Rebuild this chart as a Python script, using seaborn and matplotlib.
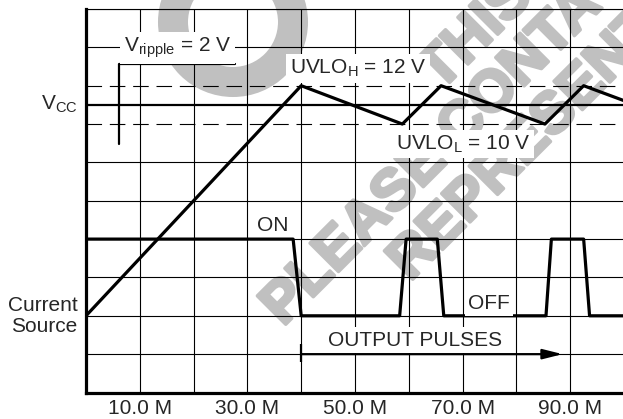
import matplotlib
matplotlib.use("Agg")
import pandas as pd
import matplotlib.pyplot as plt
import matplotlib.patheffects as pe
import seaborn as sns
from matplotlib.patches import Circle
from matplotlib.transforms import IdentityTransform

# time in M, level in grid divisions (0 = bottom, 10 = top)
ramp_t = [0, 40, 58.8, 66, 85.3, 92.5, 100]
ramp_v = [2, 8, 7, 8, 7, 8, 7.61]
pulse_t = [0, 38.5, 40, 58.3, 59.5, 65.3, 66.5, 85.5, 86.5, 92.5, 93.6, 100]
pulse_v = [4, 4, 2, 2, 4, 4, 2, 2, 4, 4, 2, 2]
ripple_t = [27.7, 6.1, 6.1]
ripple_v = [8.57, 8.57, 6.47]
vcc_level = 7.5
uvlo_levels = [8, 7]
arrow_t = [40, 88.6]
arrow_level = 1.0
arrow_tick = [0.8, 1.27]

x_ticks = list(range(0, 101, 10))
x_labels = ["", "10.0 M", "", "30.0 M", "", "50.0 M", "", "70.0 M", "", "90.0 M", ""]
y_grid = [0, 1, 2, 3, 4, 5, 6, 9, 10]

sns.set_style("white")
plt.rcParams["font.family"] = ["Liberation Sans", "DejaVu Sans"]
plt.rcParams["mathtext.default"] = "regular"

fig = plt.figure(figsize=(6.23, 4.19), dpi=100)
ax = fig.add_axes([86 / 623, 26.5 / 419, 538 / 623, 383.5 / 419])

ramp = pd.DataFrame({"t": ramp_t, "v": ramp_v})
pulse = pd.DataFrame({"t": pulse_t, "v": pulse_v})
ripple = pd.DataFrame({"t": ripple_t, "v": ripple_v})

sns.lineplot(data=ramp, x="t", y="v", sort=False, estimator=None,
             color="black", lw=2.3, ax=ax, zorder=5)
sns.lineplot(data=pulse, x="t", y="v", sort=False, estimator=None,
             color="black", lw=2.3, ax=ax, zorder=5)
sns.lineplot(data=ripple, x="t", y="v", sort=False, estimator=None,
             color="black", lw=1.6, ax=ax, zorder=5)

ax.axhline(vcc_level, color="black", lw=1.6, zorder=4)
for lv in uvlo_levels:
    ax.axhline(lv, color="black", lw=0.8, dashes=(14, 7), zorder=2)

ax.annotate("", xy=(arrow_t[1], arrow_level), xytext=(arrow_t[0], arrow_level),
            fontsize=15, zorder=5,
            arrowprops=dict(arrowstyle="-|>,head_length=0.8,head_width=0.2",
                            color="black", lw=1.6, shrinkA=0, shrinkB=0))
ax.vlines(arrow_t[0], arrow_tick[0], arrow_tick[1], color="black", lw=1.6, zorder=5)

ax.set_xlim(0, 100)
ax.set_ylim(0, 10)
ax.set_xticks(x_ticks)
ax.set_xticklabels(x_labels, fontsize=15)
ax.set_yticks(y_grid)
ax.set_yticklabels([])
ax.tick_params(length=0, pad=5)
ax.grid(True, color="black", lw=0.8)
ax.set_axisbelow(True)
ax.set_xlabel("")
ax.set_ylabel("")
for side in ["left", "bottom"]:
    ax.spines[side].set_linewidth(2.3)
    ax.spines[side].set_color("black")
ax.spines["top"].set_linewidth(0.8)
ax.spines["top"].set_color("black")
ax.spines["right"].set_visible(False)

box = dict(facecolor="white", edgecolor="none", pad=2.5)
kw = dict(fontsize=15, ha="center", va="baseline", zorder=6)
ax.text(17.0, 8.88, "V$_{ripple}$ = 2 V", bbox=box, **kw)
ax.text(50.6, 8.31, "UVLO$_{H}$ = 12 V", bbox=box, **kw)
ax.text(70.1, 6.34, "UVLO$_{L}$ = 10 V", bbox=box, **kw)
ax.text(34.75, 4.21, "ON", **kw)
ax.text(74.9, 2.18, "OFF", bbox=box, **kw)
ax.text(61.2, 1.22, "OUTPUT PULSES", bbox=box, **kw)

ax.text(-1.6, 7.38, "V$_{CC}$", fontsize=15, ha="right", va="baseline", clip_on=False)
ax.text(-1.6, 2.0, "Current\nSource", fontsize=15, ha="right", va="center",
        multialignment="right", linespacing=1.15, clip_on=False)

# faint watermark behind the chart
gray = "#c0c0c0"
ax.add_patch(Circle((233, 419 - 22), 60, transform=IdentityTransform(), fill=False,
                    edgecolor=gray, lw=21.6, zorder=0.2, clip_on=False))
wm = dict(transform=IdentityTransform(), color=gray, fontsize=42, fontweight="bold",
          rotation=45, rotation_mode="anchor", ha="left", va="baseline",
          zorder=0.2, clip_on=False,
          path_effects=[pe.withStroke(linewidth=2.5, foreground=gray)])
ax.text(283, 419 - 327, "PLEASE CONTACT", **wm)
ax.text(410, 419 - 282, "REPRESENTATIVE", **wm)
ax.text(440, 419 - 92, "THIS", **wm)

fig.savefig("out.png", dpi=100)
